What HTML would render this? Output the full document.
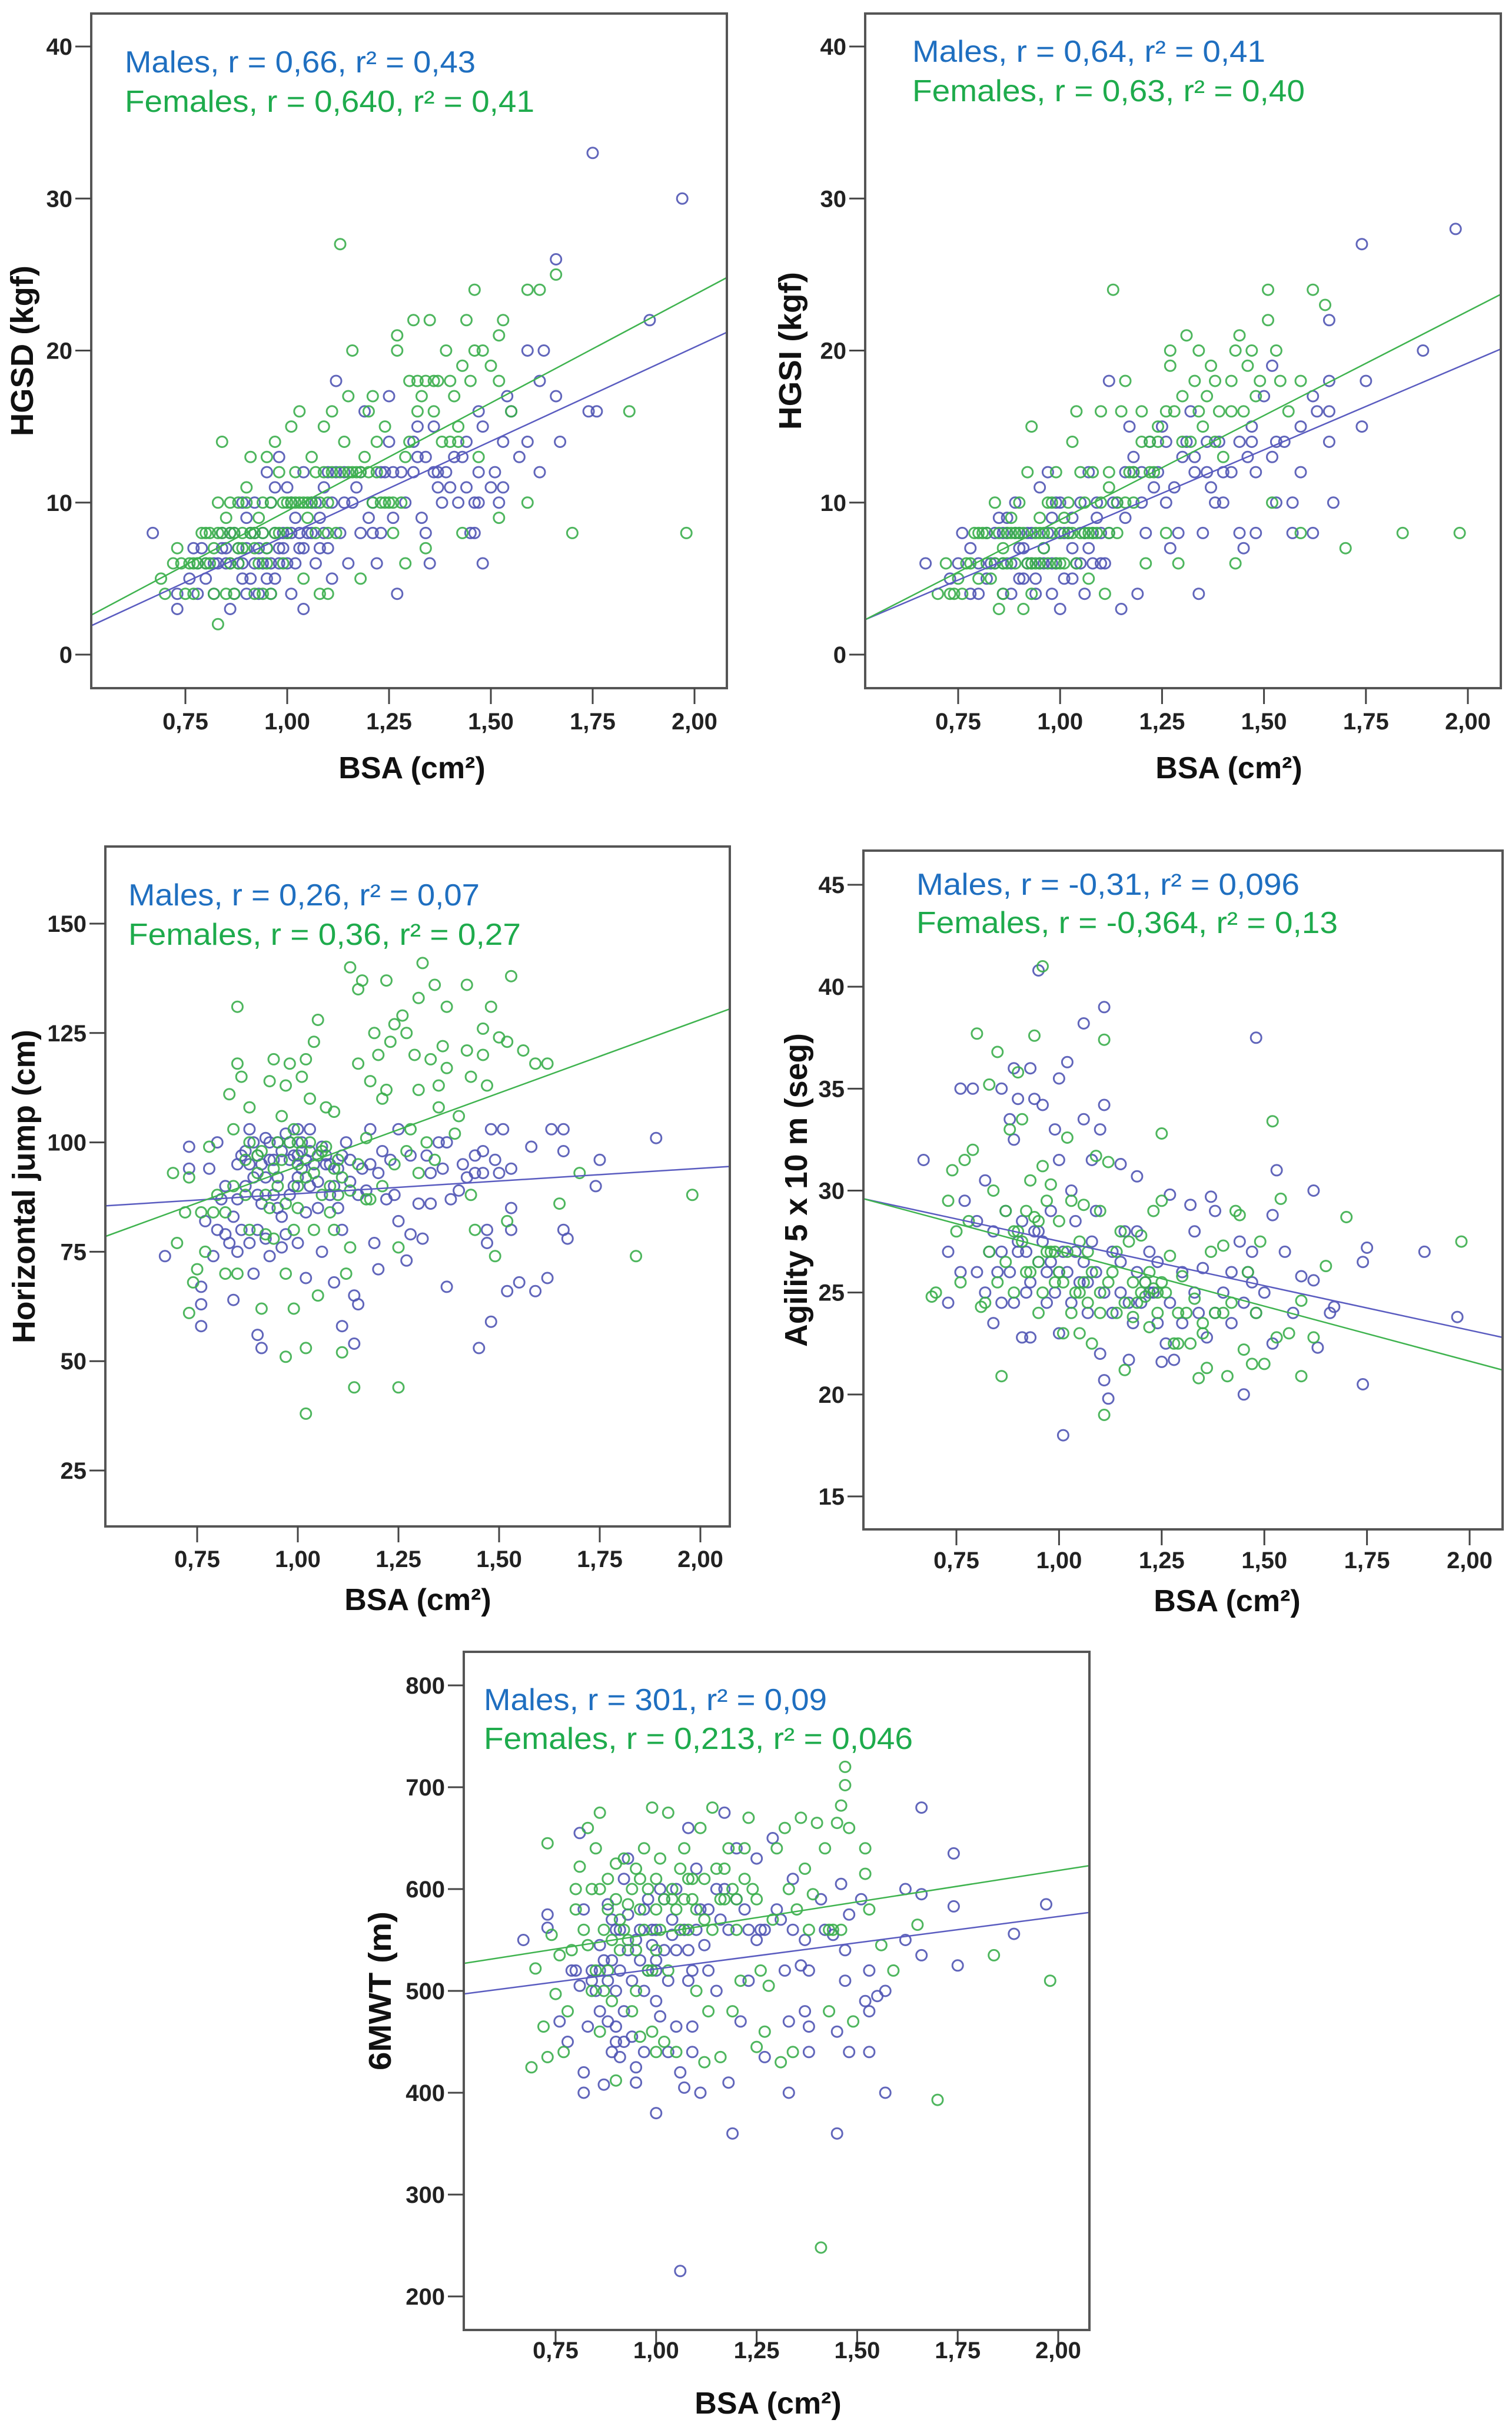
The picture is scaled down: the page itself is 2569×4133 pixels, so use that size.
<!DOCTYPE html>
<html><head><meta charset="utf-8"><style>
html,body{margin:0;padding:0;background:#fff;}
svg{display:block;}
</style></head><body>
<svg id="fig" xmlns="http://www.w3.org/2000/svg" width="2569" height="4133" viewBox="0 0 2569 4133" font-family="'Liberation Sans', Arial, sans-serif"></svg>
<script>
// ===== DATA =====
const xTicks = [0.75, 1.00, 1.25, 1.50, 1.75, 2.00];
const xTickLabels = ["0,75","1,00","1,25","1,50","1,75","2,00"];
const p1YTicks = [0,10,20,30,40];
const p2YTicks = [0,10,20,30,40];
const p3YTicks = [25,50,75,100,125,150];
const p4YTicks = [15,20,25,30,35,40,45];
const p5YTicks = [200,300,400,500,600,700,800];

const p1Fit = { males:[1.9,21.2], females:[2.6,24.8] };
const p2Fit = { males:[2.3,20.1], females:[2.3,23.7] };
const p3Fit = { males:[85.5,94.5], females:[78.5,130.5] };
const p4Fit = { males:[29.6,22.8], females:[29.6,21.2] };
const p5Fit = { males:[497,577], females:[527,623] };

const p1Males = [[0.67,8],[0.73,3],[0.73,4],[0.77,7],[0.79,7],[0.78,4],[0.80,5],[0.82,4],[0.83,6],[0.84,8],[0.85,7],[0.86,3],[0.86,6],[0.87,8],[0.88,7],[0.89,10],[0.89,5],[0.90,9],[0.91,5],[0.92,6],[0.93,4],[0.93,7],[0.94,8],[0.95,5],[0.95,12],[0.96,10],[0.97,11],[0.98,13],[0.98,7],[0.99,8],[1.00,11],[1.00,6],[1.01,8],[1.02,9],[1.03,7],[1.04,3],[1.04,12],[1.06,10],[1.07,6],[1.08,9],[1.09,11],[1.10,7],[1.11,5],[1.12,12],[1.12,18],[1.14,10],[1.15,6],[1.17,11],[1.18,8],[1.19,16],[1.20,9],[1.21,10],[1.22,6],[1.23,8],[1.24,12],[1.25,14],[1.25,17],[1.26,9],[1.27,4],[1.28,12],[1.31,14],[1.32,15],[1.32,13],[1.33,9],[1.34,8],[1.35,6],[1.36,15],[1.37,12],[1.37,11],[1.38,10],[1.40,11],[1.42,10],[1.43,13],[1.44,11],[1.45,8],[1.46,10],[1.46,8],[1.47,16],[1.47,12],[1.48,6],[1.48,15],[1.50,11],[1.51,12],[1.52,10],[1.53,14],[1.53,11],[1.54,17],[1.55,16],[1.57,13],[1.59,20],[1.59,14],[1.62,12],[1.62,18],[1.63,20],[1.66,17],[1.66,26],[1.67,14],[1.74,16],[1.75,33],[1.76,16],[1.89,22],[1.97,30],[0.85,6],[0.88,6],[0.91,8],[0.96,6],[1.00,8],[1.02,6],[1.05,8],[1.08,7],[0.82,6],[0.87,4],[0.92,10],
 [0.80,6],[0.84,7],[0.86,8],[0.89,6],[0.90,7],[0.92,8],[0.94,6],[0.95,7],[0.97,8],[0.98,6],[0.99,7],[1.01,10],[1.03,8],[1.04,7],[1.06,8],[1.07,10],[1.09,8],[1.10,12],[1.11,10],[1.13,8],[1.14,12],[1.16,10],[1.18,12],[1.21,8],[1.23,12],[1.26,12],[1.29,10],[1.31,12],[1.34,13],[1.36,12],[1.39,12],[1.41,13],[1.44,14],[1.47,10],[0.78,6],[0.76,5],[0.96,4],[1.01,4],[0.90,4],[0.97,5]];
const p1Females = [[0.69,5],[0.70,4],[0.72,6],[0.73,7],[0.75,4],[0.76,6],[0.77,4],[0.78,6],[0.80,8],[0.81,8],[0.82,7],[0.83,2],[0.83,10],[0.84,14],[0.85,4],[0.85,9],[0.86,10],[0.87,8],[0.88,6],[0.89,8],[0.90,10],[0.90,11],[0.91,13],[0.92,7],[0.93,9],[0.94,8],[0.95,13],[0.96,4],[0.96,10],[0.97,14],[0.98,12],[0.99,6],[1.00,10],[1.01,15],[1.02,12],[1.03,16],[1.04,5],[1.05,10],[1.06,13],[1.07,8],[1.08,4],[1.09,15],[1.10,10],[1.11,16],[1.11,12],[1.13,27],[1.14,14],[1.15,17],[1.16,20],[1.17,12],[1.18,5],[1.19,13],[1.20,16],[1.21,17],[1.22,12],[1.24,15],[1.25,10],[1.26,8],[1.27,20],[1.27,21],[1.29,13],[1.29,6],[1.30,18],[1.31,22],[1.32,18],[1.33,17],[1.34,7],[1.35,22],[1.36,16],[1.37,18],[1.39,20],[1.40,14],[1.41,17],[1.42,15],[1.43,19],[1.43,8],[1.44,22],[1.45,18],[1.46,24],[1.46,20],[1.47,13],[1.48,20],[1.50,19],[1.52,21],[1.52,9],[1.52,18],[1.53,22],[1.55,16],[1.59,24],[1.59,10],[1.62,24],[1.66,25],[1.70,8],[1.84,16],[1.98,8],[0.86,6],[0.88,7],[0.91,8],[0.93,6],[0.95,7],[0.98,8],[1.00,8],[1.02,10],[1.05,9],[1.08,10],[1.12,8],[1.16,12],[1.20,12],[1.23,10],[1.26,10],[0.80,6],[0.83,8],
 [0.81,6],[0.84,8],[0.86,8],[0.88,10],[0.89,7],[0.92,8],[0.94,10],[0.95,6],[0.97,8],[0.99,10],[1.01,10],[1.03,10],[1.04,10],[1.06,10],[1.07,12],[1.09,12],[1.10,8],[1.13,12],[1.15,12],[1.18,12],[1.21,10],[1.22,14],[1.24,10],[1.28,10],[1.30,14],[1.32,16],[1.34,18],[1.36,18],[1.38,14],[1.40,18],[1.42,14],[0.74,6],[0.77,6],[0.79,8],[0.82,4],[0.87,4],[0.92,4],[0.94,4],[1.10,4]];

const p2Males = [[0.67,6],[0.73,5],[0.75,6],[0.76,8],[0.78,7],[0.80,4],[0.82,5],[0.83,6],[0.85,9],[0.86,6],[0.87,8],[0.88,4],[0.89,10],[0.90,7],[0.91,5],[0.92,8],[0.93,6],[0.94,4],[0.95,11],[0.96,7],[0.97,12],[0.98,9],[0.99,6],[1.00,3],[1.00,10],[1.01,5],[1.02,8],[1.03,7],[1.05,10],[1.06,4],[1.07,12],[1.08,6],[1.09,9],[1.10,8],[1.11,6],[1.12,18],[1.13,10],[1.15,3],[1.16,12],[1.17,15],[1.18,13],[1.19,4],[1.20,10],[1.21,8],[1.22,14],[1.24,12],[1.25,15],[1.26,10],[1.27,7],[1.28,11],[1.29,8],[1.31,14],[1.32,16],[1.33,13],[1.34,4],[1.35,8],[1.36,12],[1.37,11],[1.38,10],[1.39,14],[1.40,10],[1.42,12],[1.44,8],[1.45,7],[1.46,13],[1.47,15],[1.48,12],[1.48,8],[1.50,17],[1.52,19],[1.52,13],[1.53,14],[1.53,10],[1.55,14],[1.57,8],[1.57,10],[1.59,15],[1.59,12],[1.62,17],[1.62,8],[1.63,16],[1.66,22],[1.66,18],[1.66,16],[1.66,14],[1.67,10],[1.74,15],[1.74,27],[1.75,18],[1.89,20],[1.97,28],[0.88,6],[0.92,6],[0.96,6],[1.00,8],[1.04,6],[1.08,8],[0.84,8],[0.90,8],
 [0.80,6],[0.82,8],[0.84,6],[0.86,8],[0.87,9],[0.89,8],[0.91,7],[0.93,8],[0.95,6],[0.97,8],[0.98,6],[0.99,10],[1.01,8],[1.03,9],[1.05,6],[1.06,8],[1.07,7],[1.09,10],[1.10,6],[1.12,8],[1.14,10],[1.16,9],[1.18,12],[1.20,12],[1.23,11],[1.26,14],[1.30,13],[1.33,12],[1.36,14],[1.40,12],[1.44,14],[1.47,14],[0.78,4],[0.86,4],[0.90,5],[0.94,5],[0.98,4],[1.03,5]];
const p2Females = [[0.70,4],[0.72,6],[0.73,4],[0.75,5],[0.77,6],[0.79,8],[0.81,8],[0.82,6],[0.83,5],[0.84,10],[0.85,3],[0.86,7],[0.87,8],[0.88,9],[0.89,6],[0.90,10],[0.91,3],[0.92,12],[0.93,15],[0.94,8],[0.95,6],[0.96,7],[0.97,10],[0.98,8],[0.99,12],[1.00,6],[1.01,9],[1.02,10],[1.03,14],[1.04,16],[1.05,12],[1.06,8],[1.07,5],[1.08,12],[1.10,16],[1.11,4],[1.12,11],[1.13,24],[1.14,8],[1.15,16],[1.16,18],[1.17,12],[1.18,10],[1.20,16],[1.21,6],[1.22,14],[1.23,12],[1.24,15],[1.26,8],[1.27,20],[1.27,19],[1.29,6],[1.30,17],[1.31,21],[1.32,14],[1.33,18],[1.34,20],[1.35,15],[1.36,17],[1.37,19],[1.38,14],[1.39,16],[1.40,13],[1.42,18],[1.43,6],[1.43,20],[1.44,21],[1.45,16],[1.46,19],[1.47,20],[1.48,17],[1.49,18],[1.51,24],[1.51,22],[1.52,10],[1.53,20],[1.54,18],[1.56,16],[1.59,18],[1.59,8],[1.62,24],[1.65,23],[1.70,7],[1.84,8],[1.98,8],[0.86,6],[0.90,8],[0.93,6],[0.96,8],[0.99,6],[1.02,8],[1.05,8],[1.08,8],[1.12,8],[0.88,8],[0.95,9],
 [0.80,8],[0.82,8],[0.84,6],[0.85,8],[0.87,6],[0.89,8],[0.91,8],[0.92,6],[0.94,6],[0.95,8],[0.97,6],[0.98,10],[1.00,8],[1.01,6],[1.03,8],[1.04,6],[1.06,10],[1.07,8],[1.09,8],[1.10,10],[1.12,12],[1.14,10],[1.16,10],[1.18,12],[1.20,14],[1.22,12],[1.24,14],[1.26,16],[1.28,16],[1.30,14],[1.34,16],[1.38,18],[1.42,16],[0.74,4],[0.76,4],[0.78,6],[0.80,5],[0.86,4],[0.93,4]];

const p3Males = [[0.67,74],[0.73,99],[0.73,94],[0.76,58],[0.76,63],[0.76,67],[0.77,82],[0.78,94],[0.79,74],[0.80,100],[0.81,87],[0.82,79],[0.82,90],[0.83,77],[0.84,64],[0.84,83],[0.85,95],[0.86,80],[0.87,98],[0.88,103],[0.88,77],[0.89,92],[0.89,70],[0.90,56],[0.90,80],[0.91,53],[0.91,86],[0.92,101],[0.93,96],[0.93,74],[0.94,88],[0.95,100],[0.96,83],[0.97,79],[0.98,96],[0.99,90],[1.00,103],[1.00,77],[1.01,94],[1.02,84],[1.02,69],[1.03,98],[1.05,91],[1.06,75],[1.07,97],[1.08,88],[1.09,68],[1.10,94],[1.11,58],[1.11,80],[1.12,100],[1.13,91],[1.14,65],[1.14,54],[1.15,63],[1.16,94],[1.17,89],[1.18,103],[1.19,77],[1.20,93],[1.20,71],[1.22,87],[1.23,96],[1.25,103],[1.25,82],[1.27,73],[1.28,79],[1.30,86],[1.31,78],[1.32,97],[1.33,86],[1.35,100],[1.36,94],[1.37,67],[1.38,87],[1.40,89],[1.42,92],[1.44,97],[1.45,53],[1.46,93],[1.47,77],[1.47,80],[1.48,103],[1.48,59],[1.50,93],[1.51,103],[1.52,66],[1.53,94],[1.53,85],[1.53,80],[1.55,68],[1.58,99],[1.59,66],[1.62,69],[1.63,103],[1.66,103],[1.66,98],[1.66,80],[1.67,78],[1.74,90],[1.75,96],[1.89,101],[0.90,97],[0.95,92],[0.98,100],[1.00,97],[1.03,90],[1.07,95],[1.10,85],[0.87,90],
 [0.85,87],[0.86,97],[0.88,95],[0.89,100],[0.90,88],[0.91,95],[0.92,92],[0.93,100],[0.94,96],[0.95,85],[0.96,98],[0.97,102],[0.98,88],[0.99,97],[1.00,92],[1.01,100],[1.02,96],[1.03,103],[1.04,95],[1.05,85],[1.06,99],[1.08,95],[1.09,90],[1.11,97],[1.13,96],[1.15,88],[1.18,95],[1.21,98],[1.24,88],[1.28,97],[1.33,93],[1.37,100],[1.41,95],[1.44,93],[1.46,98],[1.49,96],[0.80,80],[0.85,75],[0.92,78],[0.96,76]];
const p3Females = [[0.69,93],[0.70,77],[0.72,84],[0.73,61],[0.73,92],[0.74,68],[0.75,71],[0.76,84],[0.78,99],[0.80,88],[0.82,70],[0.83,111],[0.84,103],[0.85,131],[0.85,118],[0.85,70],[0.86,115],[0.87,96],[0.88,108],[0.90,93],[0.91,62],[0.92,79],[0.93,114],[0.94,119],[0.95,100],[0.96,106],[0.97,113],[0.97,70],[0.97,51],[0.98,118],[0.99,62],[1.00,100],[1.01,115],[1.02,119],[1.02,38],[1.02,53],[1.03,110],[1.04,123],[1.05,128],[1.05,65],[1.06,98],[1.07,108],[1.08,84],[1.09,107],[1.10,96],[1.11,52],[1.12,70],[1.13,140],[1.14,44],[1.15,135],[1.15,118],[1.16,137],[1.17,101],[1.17,87],[1.18,114],[1.19,125],[1.20,120],[1.21,110],[1.22,137],[1.22,112],[1.23,123],[1.24,127],[1.25,44],[1.25,76],[1.26,129],[1.27,125],[1.28,103],[1.29,120],[1.30,133],[1.30,112],[1.31,141],[1.32,100],[1.33,119],[1.34,136],[1.35,113],[1.35,108],[1.36,122],[1.37,131],[1.37,117],[1.39,102],[1.40,106],[1.42,121],[1.42,136],[1.43,115],[1.43,88],[1.44,80],[1.46,126],[1.46,120],[1.47,113],[1.48,131],[1.49,74],[1.50,124],[1.52,123],[1.52,82],[1.53,138],[1.56,121],[1.59,118],[1.62,118],[1.65,86],[1.70,93],[1.84,74],[1.98,88],[0.90,97],[0.95,90],[0.98,100],[1.00,95],[1.02,92],[1.05,97],[1.08,90],[0.93,85],[1.00,85],[1.10,88],
 [0.84,90],[0.87,88],[0.88,100],[0.91,98],[0.92,88],[0.94,94],[0.96,96],[0.97,86],[0.99,103],[1.00,90],[1.01,98],[1.03,100],[1.04,93],[1.06,88],[1.07,99],[1.09,94],[1.11,92],[1.13,89],[1.15,95],[1.18,87],[1.21,90],[1.24,95],[1.27,98],[1.30,93],[1.34,96],[0.82,84],[0.88,80],[0.94,78],[0.99,80],[1.04,80],[1.09,80],[1.13,76],[0.77,75],[0.79,84]];

const p4Males = [[0.67,31.5],[0.73,24.5],[0.73,27],[0.76,35],[0.76,26],[0.77,29.5],[0.79,35],[0.80,28.5],[0.82,30.5],[0.83,27],[0.84,23.5],[0.85,26],[0.86,35],[0.87,29],[0.88,33.5],[0.89,36],[0.89,32.5],[0.90,34.5],[0.90,27.5],[0.91,22.8],[0.92,25],[0.93,36],[0.93,22.8],[0.94,34.5],[0.95,40.8],[0.95,28],[0.96,34.2],[0.97,26],[0.98,29],[0.99,33],[1.00,35.5],[1.00,31.5],[1.00,23],[1.01,18],[1.02,36.3],[1.03,30],[1.04,27],[1.06,38.2],[1.06,33.5],[1.07,25.5],[1.08,31.5],[1.09,29],[1.10,33],[1.10,22],[1.11,39],[1.11,34.2],[1.11,20.7],[1.12,19.8],[1.13,24],[1.15,31.3],[1.16,28],[1.17,21.7],[1.18,23.5],[1.19,30.7],[1.19,28],[1.20,24.5],[1.22,27],[1.23,25],[1.24,23.5],[1.25,21.6],[1.26,22.5],[1.27,29.8],[1.28,21.7],[1.30,26],[1.32,29.3],[1.33,28],[1.34,24],[1.35,26.2],[1.36,22.8],[1.37,29.7],[1.38,29],[1.40,25],[1.42,23.5],[1.44,27.5],[1.45,20],[1.46,26],[1.47,27],[1.48,37.5],[1.48,24],[1.50,25],[1.52,22.5],[1.52,28.8],[1.53,31],[1.55,27],[1.57,24],[1.59,25.8],[1.62,30],[1.62,25.6],[1.63,22.3],[1.66,24],[1.67,24.3],[1.74,26.5],[1.74,20.5],[1.75,27.2],[1.89,27],[1.97,23.8],[0.95,26.5],[1.00,26],[1.05,25.5],[1.15,25],[1.22,25],[0.90,27],[0.86,24.5],
 [0.84,28],[0.86,27],[0.88,26],[0.89,24.5],[0.91,28.5],[0.92,27],[0.93,25.5],[0.94,28],[0.96,27.5],[0.97,24.5],[0.98,26.5],[0.99,25],[1.01,27],[1.02,26],[1.03,24.5],[1.04,28.5],[1.06,26.5],[1.07,24],[1.08,27.5],[1.09,26],[1.11,25],[1.13,27],[1.15,26.5],[1.17,24.5],[1.19,26],[1.21,25.5],[1.24,26.5],[1.27,24.5],[1.30,23.5],[1.33,25],[1.38,24],[1.42,26],[1.45,24.5],[1.47,25.5],[0.82,25],[0.80,26]];
const p4Females = [[0.69,24.8],[0.70,25],[0.73,29.5],[0.74,31],[0.75,28],[0.76,25.5],[0.77,31.5],[0.79,32],[0.80,37.7],[0.81,24.3],[0.83,35.2],[0.84,30],[0.85,36.8],[0.86,20.9],[0.87,29],[0.88,33],[0.89,28],[0.90,35.8],[0.91,33.5],[0.92,26],[0.93,30.5],[0.94,37.6],[0.94,28.7],[0.95,24],[0.96,41],[0.96,31.2],[0.97,27],[0.98,30.3],[0.99,25.5],[1.00,28.5],[1.01,23],[1.02,32.6],[1.03,29.5],[1.04,25],[1.05,23],[1.06,29.3],[1.07,27],[1.08,22.5],[1.09,31.7],[1.10,29],[1.11,37.4],[1.11,19],[1.12,31.4],[1.13,26],[1.14,24],[1.15,28],[1.16,21.2],[1.17,27.5],[1.18,23.8],[1.20,27.8],[1.21,25.5],[1.22,23.3],[1.23,29],[1.24,25],[1.25,32.8],[1.25,29.5],[1.27,26.8],[1.28,22.5],[1.29,24],[1.30,25.8],[1.32,22.5],[1.33,24.7],[1.34,20.8],[1.35,23],[1.36,21.3],[1.37,27],[1.38,24],[1.40,27.3],[1.41,20.9],[1.42,24.5],[1.43,29],[1.44,28.8],[1.45,22.2],[1.46,26],[1.47,21.5],[1.48,24],[1.49,27.5],[1.50,21.5],[1.52,33.4],[1.53,22.8],[1.54,29.6],[1.56,23],[1.59,20.9],[1.59,24.6],[1.62,22.8],[1.65,26.3],[1.70,28.7],[1.98,27.5],[0.95,26.5],[1.00,26],[1.05,25],[1.10,25],[1.20,25],[1.22,26],[1.25,25.5],[0.90,28],[0.98,27],
 [0.83,27],[0.85,25.5],[0.87,26.5],[0.89,25],[0.91,27.5],[0.92,29],[0.93,26],[0.95,28.5],[0.96,25],[0.97,29.5],[0.99,27],[1.01,25.5],[1.02,27],[1.03,24],[1.05,27.5],[1.06,25.5],[1.07,24.5],[1.08,26],[1.10,24],[1.12,25.5],[1.14,27],[1.16,24.5],[1.18,25.5],[1.19,24.5],[1.21,24.8],[1.23,25.2],[1.24,24],[1.26,25],[1.29,22.5],[1.31,24],[1.35,23.5],[1.40,24],[0.78,28.5],[0.82,24.5]];

const p5Males = [[0.67,550],[0.73,575],[0.73,562],[0.76,470],[0.78,450],[0.79,520],[0.81,655],[0.81,505],[0.82,580],[0.82,420],[0.82,400],[0.83,465],[0.84,520],[0.86,480],[0.86,545],[0.87,408],[0.88,585],[0.88,510],[0.89,440],[0.89,570],[0.90,465],[0.90,450],[0.91,435],[0.91,520],[0.92,610],[0.93,540],[0.93,630],[0.94,455],[0.95,425],[0.95,410],[0.96,560],[0.97,500],[0.98,590],[0.99,545],[1.00,380],[1.00,530],[1.01,475],[1.02,590],[1.03,440],[1.04,555],[1.05,465],[1.06,420],[1.06,225],[1.07,405],[1.08,660],[1.08,510],[1.09,465],[1.09,440],[1.10,620],[1.11,400],[1.12,545],[1.13,580],[1.15,500],[1.16,570],[1.17,675],[1.17,600],[1.18,410],[1.19,360],[1.20,640],[1.21,470],[1.22,580],[1.23,510],[1.25,630],[1.26,560],[1.27,435],[1.29,650],[1.31,570],[1.32,520],[1.33,470],[1.33,400],[1.34,610],[1.36,525],[1.37,550],[1.37,480],[1.38,440],[1.38,465],[1.41,590],[1.44,555],[1.45,360],[1.45,460],[1.46,605],[1.47,510],[1.47,540],[1.48,440],[1.48,575],[1.51,590],[1.52,490],[1.53,440],[1.53,520],[1.53,480],[1.55,495],[1.57,400],[1.57,500],[1.62,600],[1.62,550],[1.66,535],[1.66,595],[1.66,680],[1.74,635],[1.74,583],[1.75,525],[1.89,556],[1.97,585],[0.90,560],[0.95,550],[1.00,520],[1.05,540],[1.10,560],[0.86,520],[1.00,560],
 [0.84,510],[0.85,500],[0.87,530],[0.88,470],[0.89,530],[0.90,500],[0.91,560],[0.92,480],[0.93,575],[0.94,510],[0.96,530],[0.97,580],[0.98,520],[0.99,560],[1.00,490],[1.01,600],[1.02,540],[1.03,510],[1.04,570],[1.05,600],[1.07,560],[1.08,540],[1.09,520],[1.11,580],[1.13,520],[1.15,600],[1.18,560],[1.20,590],[1.23,560],[1.25,550],[1.27,560],[1.30,580],[1.34,560],[1.38,520],[1.42,560],[0.80,520],[0.92,450],[0.97,440]];
const p5Females = [[0.69,425],[0.70,522],[0.72,465],[0.73,645],[0.73,435],[0.74,555],[0.75,497],[0.76,535],[0.77,440],[0.78,480],[0.80,600],[0.80,580],[0.81,622],[0.83,660],[0.83,545],[0.84,500],[0.85,640],[0.86,675],[0.86,600],[0.87,560],[0.88,520],[0.89,490],[0.90,412],[0.90,625],[0.91,540],[0.92,630],[0.93,585],[0.94,480],[0.95,620],[0.96,455],[0.97,640],[0.98,520],[0.99,680],[1.00,440],[1.00,580],[1.01,630],[1.02,450],[1.03,675],[1.04,600],[1.05,440],[1.06,560],[1.07,640],[1.08,610],[1.09,590],[1.10,500],[1.11,660],[1.12,430],[1.13,480],[1.14,680],[1.15,620],[1.16,435],[1.17,590],[1.18,640],[1.19,480],[1.20,560],[1.21,510],[1.22,640],[1.23,670],[1.24,600],[1.25,445],[1.26,520],[1.27,460],[1.28,505],[1.30,640],[1.31,430],[1.32,660],[1.34,440],[1.35,580],[1.36,670],[1.37,620],[1.39,595],[1.40,665],[1.41,248],[1.42,640],[1.43,480],[1.44,560],[1.45,665],[1.46,682],[1.47,720],[1.47,702],[1.48,660],[1.49,470],[1.52,640],[1.52,615],[1.53,580],[1.56,545],[1.59,520],[1.65,565],[1.70,393],[1.84,535],[1.98,510],[0.92,560],[0.96,580],[1.00,540],[1.04,590],[1.08,560],[1.12,570],[1.16,590],[1.20,590],[0.88,580],[0.95,540],
 [0.82,560],[0.84,600],[0.85,520],[0.87,500],[0.88,610],[0.89,550],[0.90,590],[0.91,570],[0.93,550],[0.94,600],[0.95,500],[0.96,610],[0.97,560],[0.98,600],[0.99,520],[1.00,610],[1.01,560],[1.02,590],[1.03,520],[1.05,580],[1.06,620],[1.07,590],[1.09,610],[1.10,580],[1.12,610],[1.14,560],[1.17,620],[1.19,600],[1.22,610],[1.25,590],[1.29,570],[1.33,600],[1.38,560],[1.43,560],[1.46,560],[0.79,540],[0.86,460],[0.99,460]];

// ===== LAYOUT (pixel geometry, not data) =====
const panels = [
 {id:'hgsd', L:155,R:1235,T:23,B:1169, xa:[315,1180], ya:[0,1112,40,79], yTicks:p1YTicks, males:p1Males, females:p1Females, fit:p1Fit,
  ytitle:'HGSD (kgf)', ytX:37, ytLen:290, xtX:700, xtY:1322, tickY:1239,
  mText:'Males,  r = 0,66,  r² = 0,43', mX:212, mY:123, mLen:596,
  fText:'Females,  r = 0,640,  r² = 0,41', fY:190, fLen:696},
 {id:'hgsi', L:1470,R:2550,T:23,B:1169, xa:[1628,2494], ya:[0,1112,40,79], yTicks:p2YTicks, males:p2Males, females:p2Females, fit:p2Fit,
  ytitle:'HGSI (kgf)', ytX:1342, ytLen:268, xtX:2088, xtY:1322, tickY:1239,
  mText:'Males,  r = 0,64,  r² = 0,41', mX:1550, mY:105, mLen:600,
  fText:'Females,  r = 0,63,  r² = 0,40', fY:172, fLen:667},
 {id:'jump', L:179,R:1240,T:1438,B:2593, xa:[335,1190], ya:[25,2498,150,1569], yTicks:p3YTicks, males:p3Males, females:p3Females, fit:p3Fit,
  ytitle:'Horizontal jump (cm)', ytX:40, ytLen:533, xtX:710, xtY:2735, tickY:2662,
  mText:'Males,  r = 0,26,  r² = 0,07', mX:218, mY:1538, mLen:597,
  fText:'Females,  r = 0,36,  r² = 0,27', fY:1605, fLen:667},
 {id:'agility', L:1467,R:2553,T:1445,B:2598, xa:[1625,2497], ya:[15,2542,45,1503], yTicks:p4YTicks, males:p4Males, females:p4Females, fit:p4Fit,
  ytitle:'Agility 5 x 10 m (seg)', ytX:1352, ytLen:533, xtX:2085, xtY:2737, tickY:2664,
  mText:'Males,  r = -0,31,  r² = 0,096', mX:1557, mY:1520, mLen:651,
  fText:'Females,  r = -0,364,  r² = 0,13', fY:1585, fLen:716},
 {id:'6mwt', L:788,R:1851,T:2806,B:3958, xa:[944,1798], ya:[200,3901,800,2863], yTicks:p5YTicks, males:p5Males, females:p5Females, fit:p5Fit,
  ytitle:'6MWT (m)', ytX:645, ytLen:270, xtX:1305, xtY:4100, tickY:4006,
  mText:'Males,  r = 301,  r² = 0,09', mX:822, mY:2905, mLen:583,
  fText:'Females,  r = 0,213,  r² = 0,046', fY:2971, fLen:729}
];

const NS='http://www.w3.org/2000/svg';
const svg=document.getElementById('fig');
function mk(tag, attrs, parent){const e=document.createElementNS(NS,tag);for(const k in attrs)e.setAttribute(k,attrs[k]);(parent||svg).appendChild(e);return e;}

panels.forEach(p=>{
  const g=mk('g',{});
  
  
  const xs=v=>p.xa[0]+(v-0.75)/1.25*(p.xa[1]-p.xa[0]);
  const ys=v=>p.ya[1]+(v-p.ya[0])/(p.ya[2]-p.ya[0])*(p.ya[3]-p.ya[1]);
  const cid='clip-'+p.id;
  const cp=mk('clipPath',{id:cid},g);
  mk('rect',{x:p.L,y:p.T,width:p.R-p.L,height:p.B-p.T},cp);
  const plot=mk('g',{'clip-path':'url(#'+cid+')'},g);
  const drawPts=(arr,color,name)=>{
    arr.forEach(d=>{
      const c=mk('circle',{cx:xs(d[0]).toFixed(1),cy:ys(d[1]).toFixed(1),r:9,fill:'none',stroke:color,'stroke-width':3,'stroke-opacity':0.9},plot);
      
      
    });
  };
  drawPts(p.males,'#5055b4','male-point');
  drawPts(p.females,'#3bae4c','female-point');
  const lm=mk('line',{x1:p.L,y1:ys(p.fit.males[0]),x2:p.R,y2:ys(p.fit.males[1]),stroke:'#5a5cc0','stroke-width':2.5},plot);
  
  
  const lf=mk('line',{x1:p.L,y1:ys(p.fit.females[0]),x2:p.R,y2:ys(p.fit.females[1]),stroke:'#3fb34f','stroke-width':2.5},plot);
  
  
  const fr=mk('rect',{x:p.L,y:p.T,width:p.R-p.L,height:p.B-p.T,fill:'none',stroke:'#555','stroke-width':4},g);
  
  
  p.yTicks.forEach(v=>{
    const y=ys(v);
    mk('line',{x1:p.L-27,y1:y,x2:p.L,y2:y,stroke:'#444','stroke-width':3},g);
    const t=mk('text',{x:p.L-32,y:y+14,'text-anchor':'end','font-size':40,'font-weight':'bold',fill:'#222'},g);
    t.textContent=String(v);
    
    
  });
  xTicks.forEach((v,i)=>{
    const x=xs(v);
    mk('line',{x1:x,y1:p.B,x2:x,y2:p.B+27,stroke:'#444','stroke-width':3},g);
    const t=mk('text',{x:x,y:p.tickY,'text-anchor':'middle','font-size':40,'font-weight':'bold',fill:'#222'},g);
    t.textContent=xTickLabels[i];
    
    
  });
  const xt=mk('text',{x:p.xtX,y:p.xtY,'text-anchor':'middle','font-size':52,'font-weight':'bold',fill:'#111'},g);
  xt.textContent='BSA (cm²)';
  
  
  const cy=(p.T+p.B)/2;
  const yt=mk('text',{x:0,y:0,'text-anchor':'middle','font-size':54,'font-weight':'bold',fill:'#111',textLength:p.ytLen,lengthAdjust:'spacingAndGlyphs',transform:'translate('+(p.ytX+19)+','+cy+') rotate(-90)'},g);
  yt.textContent=p.ytitle;
  
  
  const m=mk('text',{x:p.mX,y:p.mY,'font-size':52,fill:'#1f6fc0',textLength:p.mLen,lengthAdjust:'spacingAndGlyphs','xml:space':'preserve'},g);
  m.textContent=p.mText;
  
  
  const f=mk('text',{x:p.mX,y:p.fY,'font-size':52,fill:'#1eab4c',textLength:p.fLen,lengthAdjust:'spacingAndGlyphs','xml:space':'preserve'},g);
  f.textContent=p.fText;
  
  
});
</script>
</body></html>
